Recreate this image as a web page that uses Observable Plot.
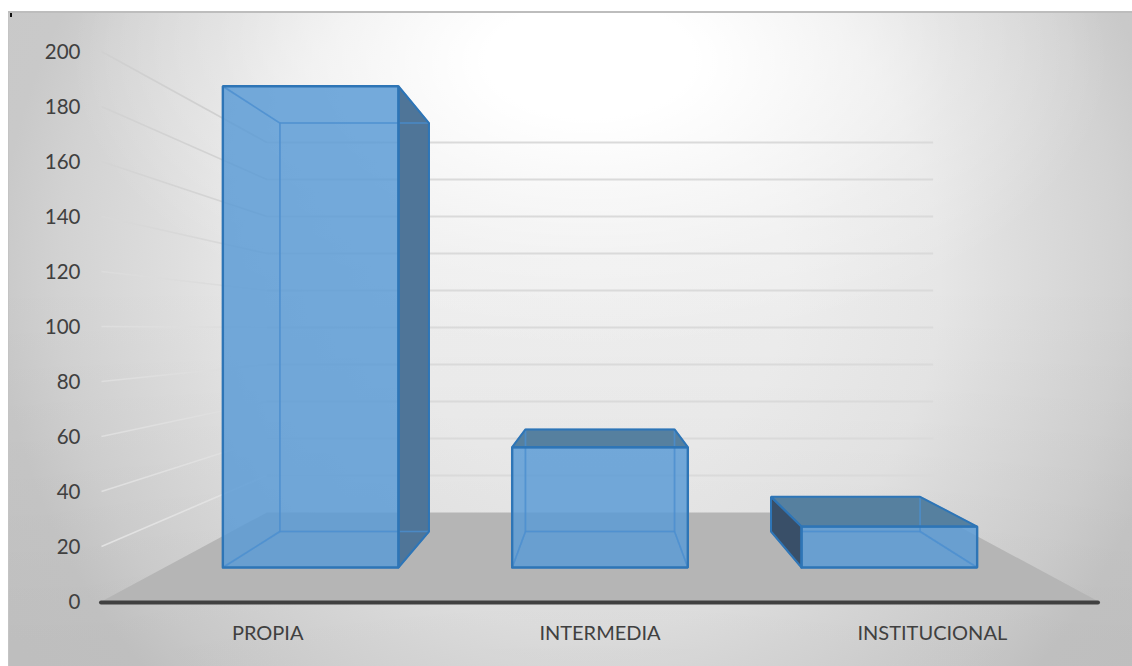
<!DOCTYPE html>
<html>
<head>
<meta charset="utf-8">
<script src="https://cdn.jsdelivr.net/npm/d3@7"></script>
<script src="https://cdn.jsdelivr.net/npm/@observablehq/plot@0.6"></script>
<style>
html,body{margin:0;padding:0;background:#fff;}
#chart{position:relative;width:1132px;height:666px;overflow:hidden;}
#speck{position:absolute;left:10px;top:13px;width:2px;height:4px;background:#111;}
svg{display:block;}
</style>
</head>
<body>
<div id="chart"><div id="speck"></div></div>
<script>
const categories = ["PROPIA", "INTERMEDIA", "INSTITUCIONAL"];
const values = [200, 50, 17];
const categoryPositions = [-1, 0, 1];
const yTicks = [0, 20, 40, 60, 80, 100, 120, 140, 160, 180, 200];
const leftWallColors = ["#e2e2e2", "#e0e0e0", "#dfdfdf", "#dedede", "#dedede", "#dcdcdc", "#d8d8d8", "#d4d4d4", "#d2d2d2", "#d0d0d0"];

// Perspective model, in data units of the front axis plane
const horizon = 98.9, halfWidth = 0.302, spread = 0.995, wallEdge = 1.49;
const sFront = 0.875, sBack = 0.7426, sWall = 0.6727;
const project = (c, v, s) => ({x: c * s, y: horizon + (v - horizon) * s});

const visible = [], hidden = [], fronts = [];
function face(list, id, kind, pts) {
  pts.concat([pts[0]]).forEach(p => list.push({id, kind, ...p}));
}
categories.forEach((name, i) => {
  const c = categoryPositions[i] * spread, v = values[i];
  const L = c - halfWidth, R = c + halfWidth;
  const fBL = project(L, 0, sFront), fBR = project(R, 0, sFront), fTL = project(L, v, sFront), fTR = project(R, v, sFront);
  const bBL = project(L, 0, sBack), bBR = project(R, 0, sBack), bTL = project(L, v, sBack), bTR = project(R, v, sBack);
  face(fronts, name + "-front", "front", [fBL, fBR, fTR, fTL]);
  face(hidden, name + "-back", "back", [bBL, bBR, bTR, bTL]);
  face(hidden, name + "-floor", "floor", [fBL, fBR, bBR, bBL]);
  face(R < 0 ? visible : hidden, name + "-right", "right", [fBR, bBR, bTR, fTR]);
  face(L > 0 ? visible : hidden, name + "-left", "left", [fBL, bBL, bTL, fTL]);
  face(v < horizon ? visible : hidden, name + "-top", "top", [fTL, fTR, bTR, bTL]);
});

const floor = [project(-1.5, 0, 1), project(1.5, 0, 1), project(wallEdge, 0, sWall), project(-wallEdge, 0, sWall)];
const wallLines = yTicks.filter(v => v > 0).map(v => ({a: project(-wallEdge, v, sWall), b: project(wallEdge, v, sWall)}));
const leftLines = yTicks.filter(v => v > 0).map((v, i) => ({a: project(-1.5, v, 1), b: project(-wallEdge, v, sWall), color: leftWallColors[i]}));

const sideFill = {right: "#4f7598", left: "#394f68", top: "#56809f"};
const edge = "#2e75b6";

const plot = Plot.plot({
  width: 1132,
  height: 666,
  marginLeft: 101,
  marginRight: 34,
  marginTop: 51,
  marginBottom: 65,
  x: {domain: [-1.5, 1.5], label: null},
  y: {domain: [0, 200], label: null},
  color: {type: "identity"},
  style: {
    fontFamily: "Lato, 'Open Sans', sans-serif",
    overflow: "hidden",
    background: [
      "linear-gradient(#bdbdbd,#bdbdbd) 8px 11px / 1124px 2px no-repeat",
      "linear-gradient(#c4c4c4,#c4c4c4) 8px 11px / 1px 655px no-repeat",
      "linear-gradient(#fff,#fff) 0 0 / 8px 666px no-repeat",
      "linear-gradient(#fff,#fff) 0 0 / 1132px 12px no-repeat",
      "radial-gradient(ellipse 520px 290px at 590px 60px, rgba(255,255,255,1) 0%, rgba(255,255,255,1) 20%, rgba(255,255,255,.6) 45%, rgba(255,255,255,.25) 70%, rgba(255,255,255,0) 100%)",
      "linear-gradient(rgba(0,0,0,0) 280px, rgba(0,0,0,.05) 650px)",
      "radial-gradient(circle 680px at 590px 280px, #eeeeee 0%, #ededed 29%, #e6e6e6 51.5%, #dfdfdf 60%, #d2d2d2 78%, #c9c9c9 87%, #c8c8c8 100%)"
    ].join(", ")
  },
  marks: [
    Plot.link(leftLines, {x1: d => d.a.x, y1: d => d.a.y, x2: d => d.b.x, y2: d => d.b.y, stroke: "color", strokeWidth: 1.6}),
    Plot.link(wallLines, {x1: d => d.a.x, y1: d => d.a.y, x2: d => d.b.x, y2: d => d.b.y, stroke: "#dadada", strokeWidth: 2}),
    Plot.line(floor.concat([floor[0]]), {x: "x", y: "y", fill: "#b5b5b5", stroke: "none"}),
    Plot.ruleY([0], {stroke: "#404040", strokeWidth: 4, dy: 1, strokeLinecap: "round"}),
    Plot.line(visible, {filter: d => d.kind === "right", x: "x", y: "y", z: "id", fill: sideFill.right, stroke: "none"}),
    Plot.line(visible, {filter: d => d.kind === "top", x: "x", y: "y", z: "id", fill: sideFill.top, stroke: "none"}),
    Plot.line(fronts, {x: "x", y: "y", z: "id", fill: "#5b9bd5", fillOpacity: 0.84, stroke: "none"}),
    Plot.line(hidden, {x: "x", y: "y", z: "id", stroke: "#4a8ed0", strokeWidth: 1.6, strokeOpacity: 0.55, strokeLinejoin: "miter"}),
    Plot.line(visible, {filter: d => d.kind === "left", x: "x", y: "y", z: "id", fill: sideFill.left, stroke: "none"}),
    Plot.line(visible, {x: "x", y: "y", z: "id", stroke: edge, strokeWidth: 2, strokeLinejoin: "miter"}),
    Plot.line(fronts, {x: "x", y: "y", z: "id", stroke: edge, strokeWidth: 2.4, strokeLinejoin: "miter"}),
    Plot.axisY({ticks: yTicks, tickSize: 0, tickPadding: 21, dy: 1, fontSize: 20.5, color: "#404040", label: null, tickFormat: d => String(d)}),
    Plot.axisX({ticks: categoryPositions, tickSize: 0, tickPadding: 24, fontSize: 20, color: "#404040", label: null,
      tickFormat: d => categories[categoryPositions.indexOf(d)]})
  ]
});
document.getElementById("chart").prepend(plot);
</script>
</body>
</html>
